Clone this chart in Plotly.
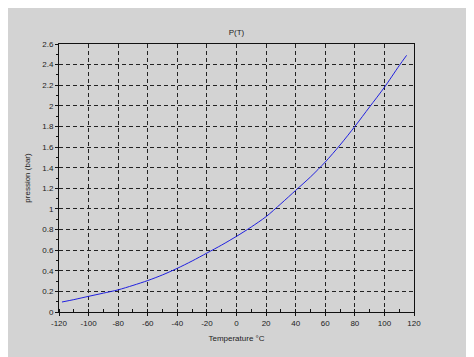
import plotly.graph_objects as go

temperature = [-118, -110, -100, -90, -80, -70, -60, -50, -40, -30, -20, -10,
               0, 10, 20, 30, 40, 50, 60, 70, 80, 90, 100, 110, 115]
pressure = [0.097, 0.12, 0.152, 0.183, 0.215, 0.258, 0.305, 0.36, 0.424, 0.495,
            0.572, 0.65, 0.734, 0.825, 0.925, 1.05, 1.18, 1.31, 1.455, 1.62,
            1.80, 1.99, 2.18, 2.39, 2.49]

x_ticks = [-120, -100, -80, -60, -40, -20, 0, 20, 40, 60, 80, 100, 120]
x_labels = ["-120", "-100", "-80", "-60", "-40", "-20", "0", "20", "40",
            "60", "80", "100", "120"]
y_ticks = [0, 0.2, 0.4, 0.6, 0.8, 1, 1.2, 1.4, 1.6, 1.8, 2, 2.2, 2.4, 2.6]
y_labels = ["0", "0.2", "0.4", "0.6", "0.8", "1", "1.2", "1.4", "1.6", "1.8",
            "2", "2.2", "2.4", "2.6"]

bg = "#d3d3d3"
font = dict(family="Liberation Sans, Arial, sans-serif", size=8, color="#222")

fig = go.Figure(go.Scatter(x=temperature, y=pressure, mode="lines",
                           line=dict(color="#2020e0", width=1,
                                     shape="spline", smoothing=0.8),
                           showlegend=False))

axis_common = dict(
    showline=True, linecolor="#111", linewidth=1, mirror=True,
    showgrid=True, gridcolor="#222", gridwidth=1, griddash="4px,3px",
    zeroline=False, ticks="outside", ticklen=3, tickcolor="#111",
    tickfont=font,
)

fig.update_xaxes(range=[-120, 120], tickvals=x_ticks, ticktext=x_labels,
                 minor=dict(ticks="inside", ticklen=3, dtick=10, tick0=0,
                            tickcolor="#111", showgrid=False),
                 title=dict(text="Temperature °C", font=font, standoff=8),
                 **axis_common)
fig.update_yaxes(range=[0, 2.6], tickvals=y_ticks, ticktext=y_labels,
                 minor=dict(ticks="outside", ticklen=2, dtick=0.1, tick0=0,
                            tickcolor="#111", showgrid=False),
                 title=dict(text="pression (bar)", font=font, standoff=10),
                 **axis_common)

fig.update_layout(
    width=474, height=357,
    margin=dict(l=51, r=68, t=36, b=53),
    paper_bgcolor=bg, plot_bgcolor=bg,
    title=dict(text="P(T)", font=dict(family=font["family"], size=8, color="#222"),
               x=0.5, xanchor="center", xref="paper",
               y=1 - 24 / 357, yref="container", yanchor="middle"),
)

fig.write_html("out.html")
